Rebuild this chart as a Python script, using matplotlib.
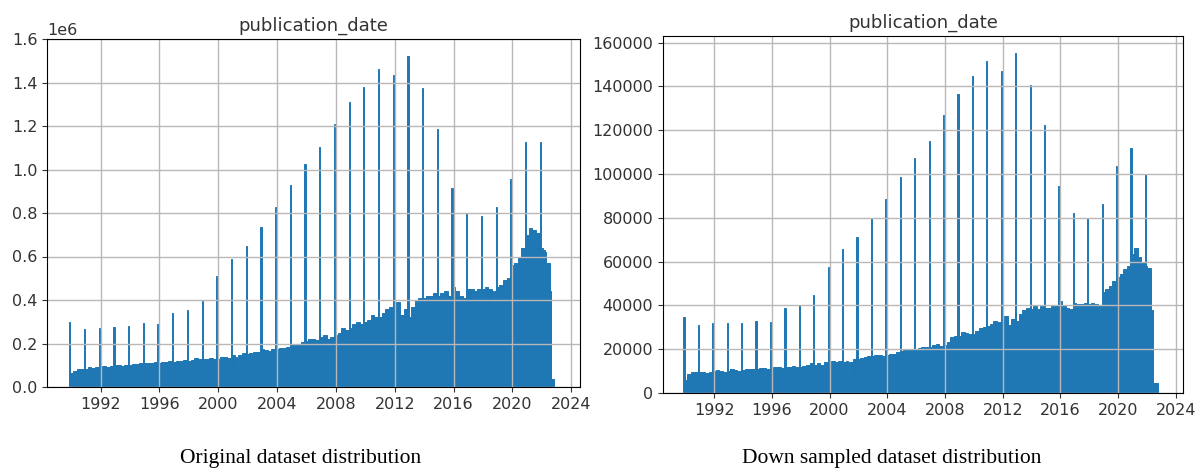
import numpy as np
import matplotlib
matplotlib.use('Agg')
import matplotlib.pyplot as plt

# january counts (one spike per year, 1990..2022)
years = np.arange(1990, 2023)
orig_jan = [0.30, 0.265, 0.27, 0.274, 0.28, 0.296, 0.29, 0.342, 0.354, 0.395,
            0.51, 0.589, 0.648, 0.737, 0.829, 0.929, 1.024, 1.105, 1.208, 1.309,
            1.381, 1.464, 1.433, 1.522, 1.376, 1.185, 0.914, 0.799, 0.788, 0.826,
            0.956, 1.125, 1.125]
down_jan = [34900, 31100, 31900, 31900, 31900, 33000, 32600, 38700, 40200, 44800,
            57400, 65700, 71400, 80100, 88700, 98400, 107300, 114900, 126800, 136500,
            144600, 151500, 147200, 155300, 140500, 122400, 94600, 82100, 80100, 86400,
            103800, 111900, 100000]

# quarterly level of the other months, 1990..2021 (original in 1e6)
orig_q = [
    [0.065, 0.075, 0.085, 0.085], [0.085, 0.09, 0.088, 0.09], [0.09, 0.095, 0.09, 0.095],
    [0.10, 0.10, 0.095, 0.10], [0.10, 0.105, 0.105, 0.11], [0.11, 0.11, 0.112, 0.115],
    [0.11, 0.115, 0.115, 0.12], [0.115, 0.12, 0.12, 0.125], [0.12, 0.125, 0.135, 0.13],
    [0.13, 0.13, 0.135, 0.13], [0.13, 0.14, 0.14, 0.135], [0.145, 0.14, 0.145, 0.155],
    [0.15, 0.155, 0.16, 0.16], [0.175, 0.17, 0.165, 0.175], [0.175, 0.18, 0.18, 0.185],
    [0.195, 0.20, 0.20, 0.205], [0.21, 0.22, 0.22, 0.215], [0.23, 0.24, 0.22, 0.23],
    [0.24, 0.25, 0.27, 0.26], [0.27, 0.29, 0.30, 0.29], [0.30, 0.31, 0.33, 0.32],
    [0.32, 0.34, 0.36, 0.37], [0.37, 0.39, 0.33, 0.36], [0.32, 0.37, 0.40, 0.41],
    [0.41, 0.42, 0.42, 0.43], [0.42, 0.43, 0.44, 0.42], [0.46, 0.44, 0.42, 0.41],
    [0.45, 0.45, 0.44, 0.45], [0.45, 0.46, 0.45, 0.44], [0.46, 0.47, 0.49, 0.50],
    [0.56, 0.57, 0.60, 0.64], [0.70, 0.73, 0.72, 0.71]]
down_q = [
    [6000, 8500, 9500, 9500], [9500, 9500, 9000, 9500], [10000, 10500, 10000, 9500],
    [10000, 11000, 10500, 10000], [10500, 11000, 11000, 11000], [11000, 11500, 11500, 11000],
    [11500, 12000, 12000, 11500], [12000, 12000, 12500, 12000], [12000, 12500, 13000, 13500],
    [13000, 13500, 13000, 14000], [13000, 14500, 14000, 14500], [14000, 14500, 14000, 15500],
    [15500, 16000, 16500, 17000], [17000, 17500, 17500, 17000], [17500, 18000, 18000, 18500],
    [19000, 19500, 19500, 20000], [20000, 20500, 21000, 21000], [21000, 22000, 22500, 21500],
    [22000, 23500, 25500, 26000], [26000, 28000, 27500, 27000], [27000, 28500, 29500, 30000],
    [30500, 31500, 33000, 32500], [33500, 35000, 31000, 34000], [33000, 36000, 38000, 39000],
    [38500, 39500, 38500, 39500], [39000, 39000, 39500, 40000], [42000, 40000, 39000, 38500],
    [41000, 40500, 40500, 41000], [40500, 41000, 40500, 40000], [46000, 47500, 49000, 51000],
    [53000, 54500, 56500, 58000], [63500, 66000, 62000, 60000]]

# 2022, feb..dec
orig_2022 = [0.64, 0.64, 0.63, 0.62, 0.57, 0.57, 0.57, 0.44, 0.035, 0.035, 0.035]
down_2022 = [58000, 57000, 57000, 57000, 38000, 38000, 4500, 4500, 4500, 4500, 0]

# single low months (year, month, count)
orig_dips = [(2001, 6, 0.094), (2018, 11, 0.38)]
down_dips = [(2001, 6, 9000), (2018, 11, 36600)]

# first bin edge; bins are one month wide and the new-year spike bin
# sits just left of each year tick
start = 1989.86


def monthly(jan, quarters, last, dips):
    counts = []
    for i, y in enumerate(years):
        for m in range(1, 13):
            if m == 1:
                counts.append(jan[i])
            elif y == 2022:
                counts.append(last[m - 2])
            else:
                counts.append(quarters[i][(m - 1) // 3])
    counts = np.array(counts, dtype=float)
    for y, m, v in dips:
        counts[(y - 1990) * 12 + m - 1] = v
    return counts


edges = start + np.arange(len(years) * 12 + 1) / 12.0

fig = plt.figure(figsize=(11.96, 4.70), dpi=100)
ax1 = fig.add_axes([47 / 1196, 83 / 470, 533 / 1196, 348 / 470])
ax2 = fig.add_axes([663 / 1196, 77 / 470, 520 / 1196, 357 / 470])

orig = monthly(orig_jan, orig_q, orig_2022, orig_dips) * 1e6
down = monthly(down_jan, down_q, down_2022, down_dips)

for ax, counts, top, xl in [(ax1, orig, 1.6e6, (1988.35, 2024.6)),
                            (ax2, down, 163000, (1988.45, 2024.5))]:
    ax.hist(edges[:-1], bins=edges, weights=counts, color='C0',
            edgecolor='C0', linewidth=0.7)
    ax.grid(True, color='#b8b8b8', linewidth=1.0)
    ax.set_title('publication_date', fontsize=13)
    ax.set_xticks(np.arange(1992, 2025, 4))
    ax.set_xlim(xl)
    ax.set_ylim(0, top)
    ax.tick_params(labelsize=11.5, colors='#333333')
    ax.yaxis.get_offset_text().set_fontsize(11.5)
    ax.yaxis.get_offset_text().set_color('#333333')
    ax.title.set_color('#333333')

ax1.set_yticks(np.arange(0, 1.61e6, 0.2e6))
ax2.set_yticks(np.arange(0, 160001, 20000))

fig.text(301 / 1196, 1 - 458 / 470, 'Original dataset distribution',
         family='Liberation Serif', fontsize=15.5, ha='center', va='center')
fig.text(892 / 1196, 1 - 459 / 470, 'Down sampled dataset distribution',
         family='Liberation Serif', fontsize=15.5, ha='center', va='center')

fig.savefig('out.png', dpi=100)
